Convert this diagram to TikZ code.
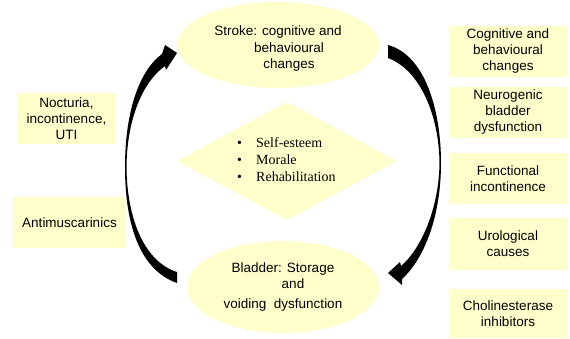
\documentclass[tikz,border=0pt]{standalone}
\usepackage{fontspec}
\setmainfont{Liberation Sans}
\newfontfamily\listfont{Liberation Serif}
\usetikzlibrary{shapes.geometric}
\definecolor{paleyellow}{HTML}{FFFFCC}
\tikzset{
  factbox/.style={fill=paleyellow, minimum height=51pt, inner sep=0pt, align=center,
    font=\fontsize{13.5}{16}\selectfont},
  stagebox/.style={ellipse, fill=paleyellow, inner sep=0pt, align=center,
    font=\fontsize{13.5}{16.5}\selectfont},
  crescent/.style={fill=black}
}
\begin{document}
\begin{tikzpicture}[x=1pt, y=-1pt]
    \useasboundingbox (0,0) rectangle (570,339);

    \node[stagebox, minimum width=202pt, minimum height=86pt] (stroke) at (278,45)
        {\raisebox{-4pt}[\height][\depth]{\begin{tabular}{@{}c@{}}Stroke: cognitive and\\\hspace*{22pt}behavioural\\\hspace*{22pt}changes\end{tabular}}};
    \node[stagebox, minimum width=192pt, minimum height=92pt] (bladder) at (283,287)
        {Bladder: Storage\\\hspace*{20pt}and\\[3pt]voiding\ \ dysfunction};

    \node[diamond, fill=paleyellow, minimum width=220pt, minimum height=118pt, inner sep=0pt] (core) at (287,161) {};
    \node[anchor=west, align=left, inner sep=0pt, font=\listfont\fontsize{14}{17}\selectfont] (list) at (237,160)
        {\makebox[19pt][l]{\textbullet}Self-esteem\\
         \makebox[19pt][l]{\textbullet}Morale\\
         \makebox[19pt][l]{\textbullet}Rehabilitation};

    \node[factbox, minimum width=99pt] (nocturia) at (66.5,119) {Nocturia,\\incontinence,\\UTI};
    \node[factbox, minimum width=113pt] (antimusc) at (69.5,222.5) {Antimuscarinics};

    \node[factbox, minimum width=118pt] (cogn) at (508,51.5) {Cognitive and\\behavioural\\changes};
    \node[factbox, minimum width=118pt] (neuro) at (508,112.5) {Neurogenic\\bladder\\dysfunction};
    \node[factbox, minimum width=118pt] (func) at (508,178.5) {Functional\\incontinence};
    \node[factbox, minimum width=118pt] (uro) at (508,244) {Urological\\causes};
    \node[factbox, minimum width=118pt, minimum height=49pt] (chol) at (508,313.5) {Cholinesterase\\inhibitors};

    % bladder -> stroke
    \fill[crescent] (177,283) .. controls (140,270) and (125,225) .. (125,167)
        .. controls (125,110) and (140,70) .. (162,54) -- (165,45) -- (177,53) -- (166,70) -- (165,66)
        .. controls (145,80) and (127,115) .. (126.5,167)
        .. controls (127,220) and (145,262) .. (177,272) -- cycle;
    % stroke -> bladder
    \fill[crescent] (388,45) .. controls (425,55) and (441,110) .. (441,163)
        .. controls (441,215) and (425,258) .. (402,279) -- (402,285) -- (388,273) -- (400,262) -- (401,266)
        .. controls (420,250) and (439,210) .. (439.5,163)
        .. controls (439,115) and (420,70) .. (388,58) -- cycle;
\end{tikzpicture}
\end{document}
